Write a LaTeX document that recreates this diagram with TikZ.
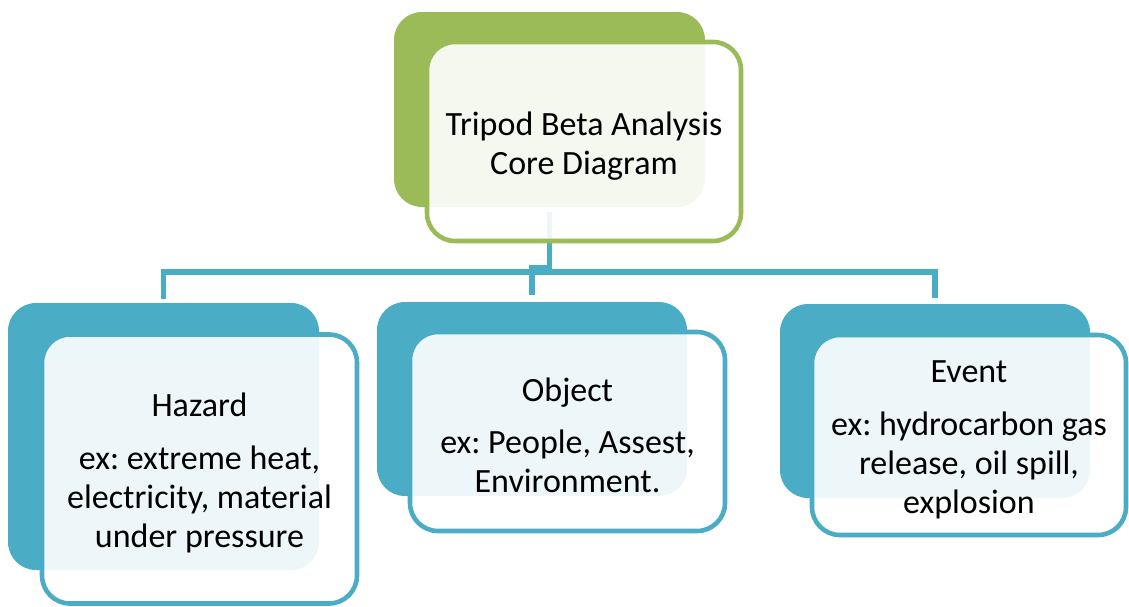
\documentclass[tikz,border=0pt]{standalone}
\usepackage{fontspec}
\setmainfont{Carlito}
\usetikzlibrary{calc}
\definecolor{tgreen}{HTML}{9BBB59}
\definecolor{tblue}{HTML}{4BACC6}
\frenchspacing
\newcommand{\topstrut}{\rule{0pt}{16pt}}
\tikzset{
  backbox/.style={rounded corners=14pt, inner sep=0pt, outer sep=0pt, fill=#1, draw=none},
  frontbox/.style={rounded corners=14pt, inner sep=0pt, outer sep=0pt, draw=#1, line width=2.3pt,
    fill=white, fill opacity=0.9, text opacity=1, align=center,
    font=\fontsize{17pt}{19.5pt}\selectfont},
  conn/.style={draw=tblue, line width=2.6pt}
}
\begin{document}
\begin{tikzpicture}[x=0.5pt,y=-0.5pt]
\useasboundingbox (0,0) rectangle (1129,606);
% back boxes
\node[backbox=tgreen, minimum width=155.5pt, minimum height=97.5pt] (topB) at (549.5,109.5) {};
\node[backbox=tblue, minimum width=155.5pt, minimum height=133.5pt] (hazB) at (163.5,436.5) {};
\node[backbox=tblue, minimum width=155pt, minimum height=97pt] (objB) at (532,399) {};
\node[backbox=tblue, minimum width=155pt, minimum height=97pt] (evB) at (935,401) {};
% connectors
\coordinate (bus) at (549.5,272);
\coordinate (jog) at (549.5,268);
\draw[conn] ($(topB.south)+(0,5)$) -- (bus);
\draw[conn] ($(hazB.north)+(0,-4)$) |- (bus) -| ($(evB.north)+(0,-6)$);
\draw[conn] ($(objB.north)+(0,-7)$) |- (jog);
% front boxes
\node[frontbox=tgreen, minimum width=157pt, minimum height=99.5pt] (topF) at (584,141.5)
  {\topstrut Tripod Beta Analysis\\Core Diagram};
\node[frontbox=tblue, minimum width=157.5pt, minimum height=134.5pt] (hazF) at (199.5,469)
  {\topstrut Hazard\\[7pt]ex: extreme heat,\\electricity, material\\under pressure};
\node[frontbox=tblue, minimum width=157.5pt, minimum height=99.5pt] (objF) at (567.5,431.5)
  {\topstrut Object\\[6.5pt]ex: People, Assest,\\Environment.};
\node[frontbox=tblue, minimum width=157pt, minimum height=100pt] (evF) at (969,435)
  {\topstrut Event\\[7pt]ex: hydrocarbon gas\\release, oil spill,\\explosion};
\end{tikzpicture}
\end{document}
